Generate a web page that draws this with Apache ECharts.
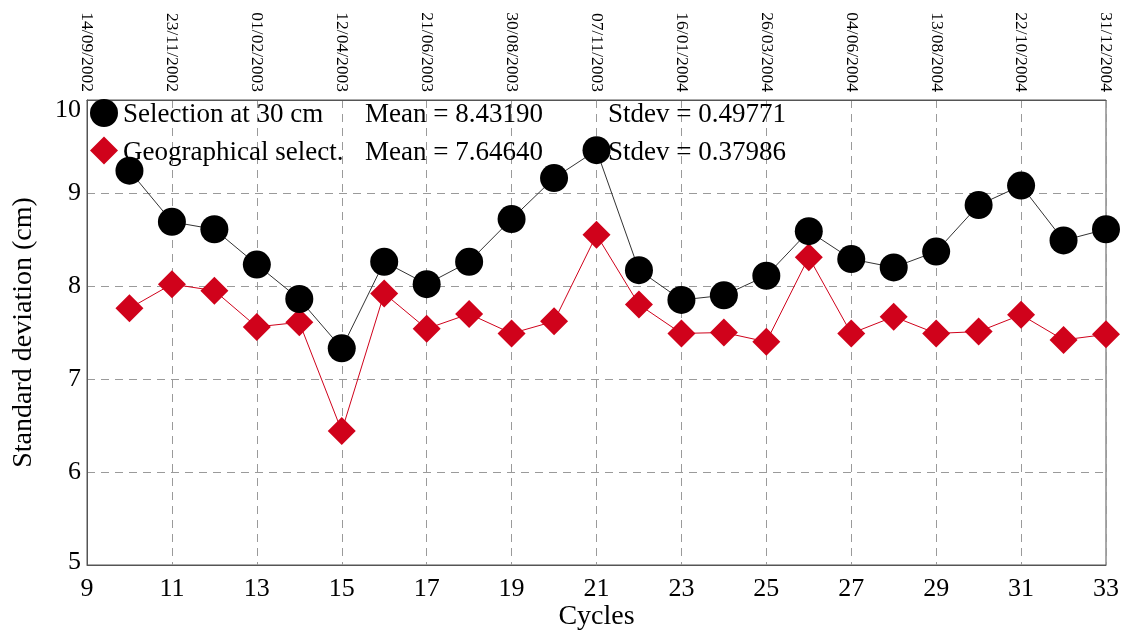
<!DOCTYPE html>
<html>
<head>
<meta charset="utf-8">
<script src="https://cdn.jsdelivr.net/npm/echarts@6/dist/echarts.min.js"></script>
<style>html,body{margin:0;padding:0;background:#fff;}#c{width:1126px;height:630px;}</style>
</head>
<body>
<div id="c"></div>
<script>
const cycles = [10,11,12,13,14,15,16,17,18,19,20,21,22,23,24,25,26,27,28,29,30,31,32,33];
const selection30 = [9.24,8.69,8.61,8.23,7.86,7.33,8.26,8.02,8.26,8.72,9.16,9.46,8.17,7.85,7.90,8.11,8.59,8.29,8.20,8.37,8.87,9.08,8.49,8.61];
const geographical = [7.76,8.02,7.95,7.56,7.61,6.44,7.92,7.54,7.70,7.49,7.62,8.55,7.80,7.49,7.50,7.40,8.31,7.49,7.67,7.49,7.51,7.69,7.42,7.48];
const seriesNames = ['Selection at 30 cm','Geographical select.'];
const means = ['8.43190','7.64640'];
const stdevs = ['0.49771','0.37986'];
const topTickCycles = [9,11,13,15,17,19,21,23,25,27,29,31,33];
const topTickDates = ['14/09/2002','23/11/2002','01/02/2003','12/04/2003','21/06/2003','30/08/2003','07/11/2003','16/01/2004','26/03/2004','04/06/2004','13/08/2004','22/10/2004','31/12/2004'];

const FONT = '"Liberation Serif","DejaVu Serif",serif';
const RED = '#d0021b';
const chart = echarts.init(document.getElementById('c'), null, {renderer:'canvas'});
const gridLine = {show:true, lineStyle:{color:'#9a9a9a', type:[8,6], width:1}};
chart.setOption({
  animation:false,
  backgroundColor:'#fff',
  grid:{left:87, top:100, right:20, bottom:65, outerBoundsMode:'none', containLabel:false,
        show:true, borderColor:'#555', borderWidth:1},
  legend:{
    orient:'vertical', left:90, top:99, padding:0, itemWidth:28, itemHeight:28, itemGap:8,
    textStyle:{fontFamily:FONT, fontSize:27, color:'#000',
      rich:{
        n:{fontFamily:FONT, fontSize:27, width:242, color:'#000', padding:[4,0,0,0]},
        m:{fontFamily:FONT, fontSize:27, width:243, color:'#000', padding:[4,0,0,0]},
        s:{fontFamily:FONT, fontSize:27, color:'#000', padding:[4,0,0,0]}
      }},
    formatter:function(name){
      const i = seriesNames.indexOf(name);
      return '{n|'+name+'}{m|Mean = '+means[i]+'}{s|Stdev = '+stdevs[i]+'}';
    },
    data:[{name:seriesNames[0], icon:'circle'},{name:seriesNames[1], icon:'diamond'}]
  },
  xAxis:[{
    type:'value', min:9, max:33, interval:2, position:'bottom',
    name:'Cycles', nameLocation:'middle', nameGap:38, nameMoveOverlap:false,
    nameTextStyle:{fontFamily:FONT, fontSize:28, color:'#000'},
    axisLine:{show:true, lineStyle:{color:'#555'}}, axisTick:{show:false},
    axisLabel:{fontFamily:FONT, fontSize:26, color:'#000', margin:11},
    splitLine:gridLine
  },{
    type:'value', min:9, max:33, interval:2, position:'top',
    axisLine:{show:true, lineStyle:{color:'#555'}}, axisTick:{show:false},
    axisLabel:{fontFamily:FONT, fontSize:17.5, color:'#000', rotate:90, margin:8,
      formatter:function(v){const i = topTickCycles.indexOf(Math.round(v)); return i>=0?topTickDates[i]:'';}},
    splitLine:{show:false}
  }],
  yAxis:{
    type:'value', min:5, max:10, interval:1,
    name:'Standard deviation (cm)', nameLocation:'middle', nameGap:49, nameMoveOverlap:false,
    nameTextStyle:{fontFamily:FONT, fontSize:28, color:'#000'},
    axisLine:{show:true, lineStyle:{color:'#555'}}, axisTick:{show:false},
    axisLabel:{fontFamily:FONT, fontSize:26, color:'#000', margin:6,
      formatter:function(v){ return v===10 ? '{t|10}' : (v===5 ? '{b|5}' : String(v)); },
      rich:{
        t:{fontFamily:FONT, fontSize:26, color:'#000', padding:[20,0,0,0]},
        b:{fontFamily:FONT, fontSize:26, color:'#000', padding:[0,0,6,0]}
      }},
    splitLine:gridLine
  },
  series:[{
    name:seriesNames[1], type:'line', xAxisIndex:0,
    data:cycles.map((c,i)=>[c, geographical[i]]),
    symbol:'diamond', symbolSize:28, showAllSymbol:true,
    itemStyle:{color:RED}, lineStyle:{color:RED, width:1}, z:2
  },{
    name:seriesNames[0], type:'line', xAxisIndex:0,
    data:cycles.map((c,i)=>[c, selection30[i]]),
    symbol:'circle', symbolSize:28, showAllSymbol:true,
    itemStyle:{color:'#000'}, lineStyle:{color:'#333', width:1}, z:3
  }]
});
</script>
</body>
</html>
